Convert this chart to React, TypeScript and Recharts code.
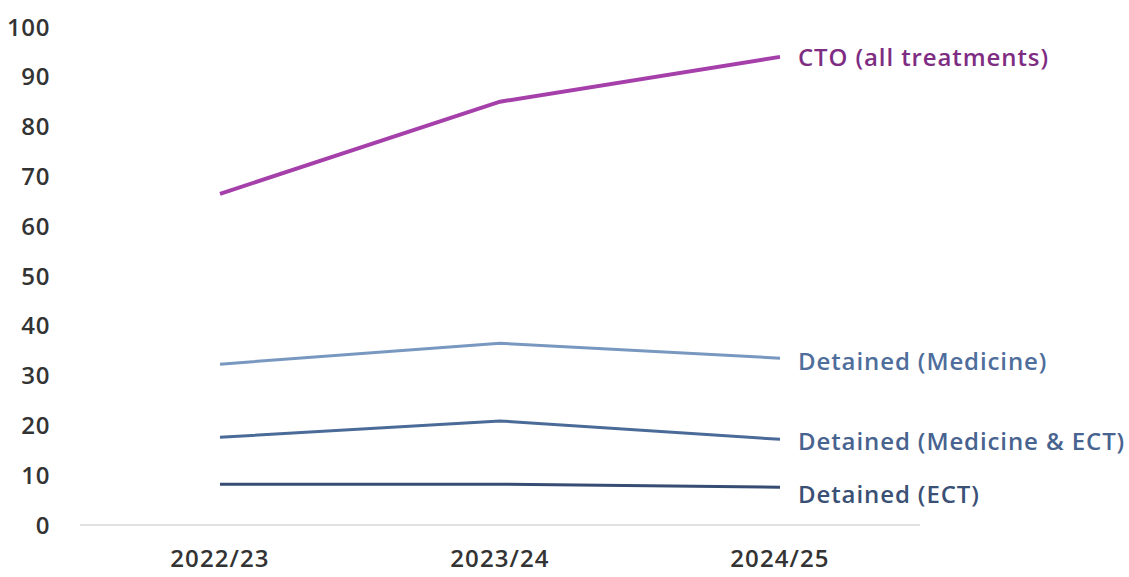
import React from "react";
import { LineChart, Line, XAxis, YAxis } from "recharts";

const years = ["2022/23", "2023/24", "2024/25"];
const cto = [66.5, 85, 94];
const detMedicine = [32.3, 36.5, 33.5];
const detMedEct = [17.6, 20.9, 17.2];
const detEct = [8.2, 8.2, 7.6];
const yTicks = [0, 10, 20, 30, 40, 50, 60, 70, 80, 90, 100];

const data = years.map((y, i) => ({
  year: y,
  cto: cto[i],
  detMedicine: detMedicine[i],
  detMedEct: detMedEct[i],
  detEct: detEct[i],
}));

const series = [
  { key: "cto", name: "CTO (all treatments)", stroke: "#A53FA9", text: "#7E2D82", width: 4, dy: 0 },
  { key: "detMedicine", name: "Detained (Medicine)", stroke: "#7898C0", text: "#4F6E9C", width: 3, dy: 2 },
  { key: "detMedEct", name: "Detained (Medicine & ECT)", stroke: "#4A6A98", text: "#48638F", width: 3, dy: 1 },
  { key: "detEct", name: "Detained (ECT)", stroke: "#364C72", text: "#3A5075", width: 3, dy: 6 },
];

const FONT = "'Segoe UI', 'Open Sans', sans-serif";
const FS = 24;

const makeLabel = (name: string, color: string, dy: number) => (props: any) => {
  const { x, y, index } = props;
  if (index !== years.length - 1) return null;
  return (
    <text
      x={x + 18}
      y={y + dy}
      dominantBaseline="central"
      fill={color}
      fontFamily={FONT}
      fontWeight={600}
      fontSize={FS}
      letterSpacing={0.9}
    >
      {name}
    </text>
  );
};

export default function App() {
  return (
    <div style={{ position: "absolute", left: 0, top: 0, width: 1129, height: 577, background: "#fff" }}>
      <LineChart width={1129} height={577} data={data} margin={{ top: 27, right: 209, bottom: 0, left: 0 }}>
        <XAxis
          dataKey="year"
          height={52}
          padding={{ left: 140, right: 140 }}
          axisLine={{ stroke: "#D9D9D9", strokeWidth: 1.5 }}
          tickLine={false}
          tickSize={0}
          tickMargin={25}
          tick={{ fill: "#333333", fontSize: FS, fontWeight: 600, fontFamily: FONT, letterSpacing: 1.1 }}
        />
        <YAxis
          width={80}
          domain={[0, 100]}
          ticks={yTicks}
          interval={0}
          axisLine={false}
          tickLine={false}
          tickSize={0}
          tickMargin={30}
          tick={{ fill: "#333333", fontSize: FS, fontWeight: 600, fontFamily: FONT, letterSpacing: 0.6 }}
        />
        {series.map((s) => (
          <Line
            key={s.key}
            dataKey={s.key}
            name={s.name}
            stroke={s.stroke}
            strokeWidth={s.width}
            dot={false}
            activeDot={false}
            isAnimationActive={false}
            label={makeLabel(s.name, s.text, s.dy)}
          />
        ))}
      </LineChart>
    </div>
  );
}
